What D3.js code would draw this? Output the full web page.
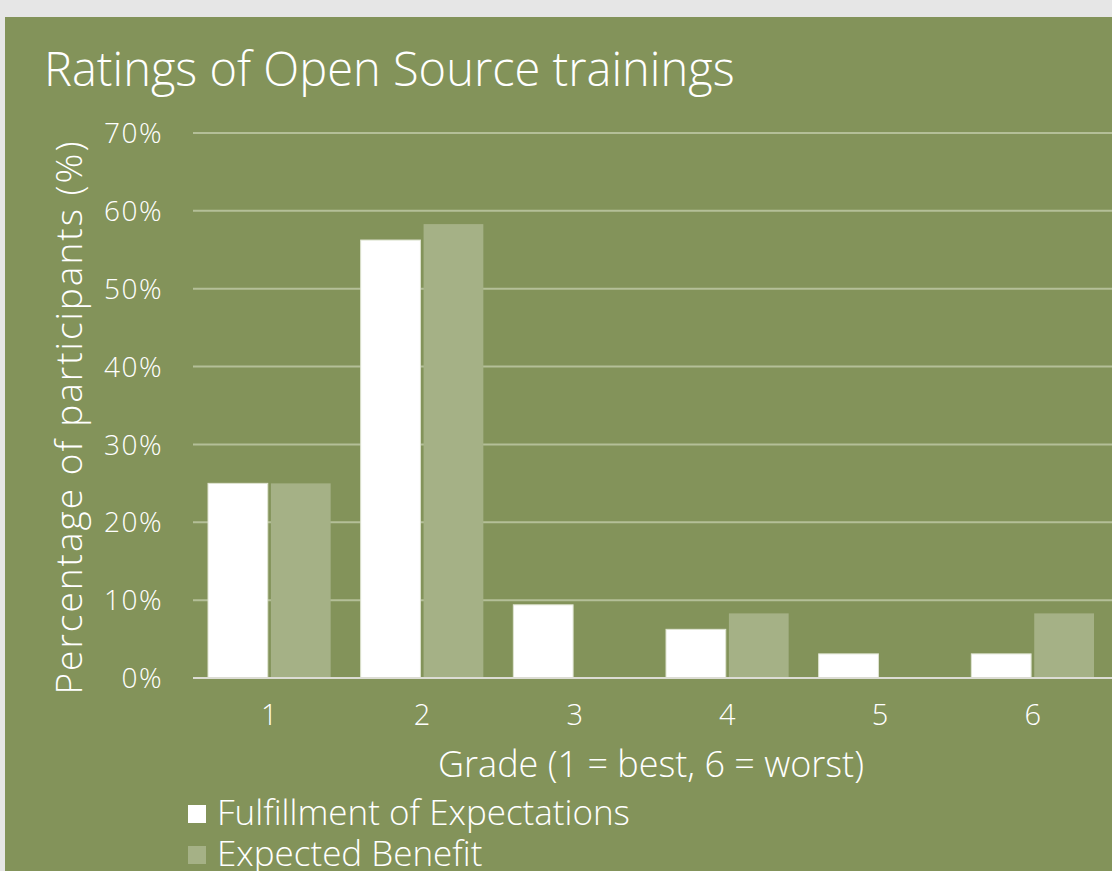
<!DOCTYPE html>
<html>
<head>
<meta charset="utf-8">
<script src="https://cdn.jsdelivr.net/npm/d3@7"></script>
<style>
  html, body { margin: 0; padding: 0; background: #e6e6e6; }
  svg { display: block; font-family: "Open Sans", "Noto Sans", sans-serif; }
</style>
</head>
<body>
<div id="chart"></div>
<script>
const grades = ["1", "2", "3", "4", "5", "6"];
const seriesNames = ["Fulfillment of Expectations", "Expected Benefit"];
const fulfillment = [25, 56.25, 9.4, 6.25, 3.1, 3.1];
const benefit = [25, 58.3, 0, 8.3, 0, 8.3];
const yTicks = [0, 10, 20, 30, 40, 50, 60, 70];

const W = 1112, H = 871;
const bg = "#83935a";
const colors = ["#ffffff", "#a5b186"];

const svg = d3.select("#chart")
    .append("svg")
    .attr("width", W)
    .attr("height", H);

// green panel
svg.append("rect")
    .attr("x", 5).attr("y", 17)
    .attr("width", W - 5).attr("height", H - 17)
    .attr("fill", bg);

// scales
const x = d3.scaleBand().domain(grades).range([193, 1109]);
const x1 = d3.scaleBand().domain(seriesNames).range([15, x.bandwidth() - 15]).paddingInner(0.05);
const y = d3.scaleLinear().domain([0, 70]).range([678, 133]);

// title
svg.append("text")
    .attr("x", 44).attr("y", 86)
    .attr("fill", "#fff")
    .attr("font-size", 47)
    .attr("font-weight", 300)
    .text("Ratings of Open Source trainings");

// grid lines
svg.selectAll("line.grid")
    .data(yTicks.filter(d => d > 0))
    .enter()
    .append("line")
    .attr("class", "grid")
    .attr("x1", 193).attr("x2", W)
    .attr("y1", d => y(d)).attr("y2", d => y(d))
    .attr("stroke", "#b4bf98")
    .attr("stroke-width", 2);

// y tick labels
svg.selectAll("text.ytick")
    .data(yTicks)
    .enter()
    .append("text")
    .attr("class", "ytick")
    .attr("x", 163)
    .attr("y", d => y(d))
    .attr("dy", "0.36em")
    .attr("text-anchor", "end")
    .attr("fill", "#fff")
    .attr("font-size", 28)
    .attr("font-weight", 300)
    .attr("letter-spacing", 1.5)
    .text(d => d + "%");

// bars
const rows = grades.map((g, i) => ({grade: g, values: [fulfillment[i], benefit[i]]}));
const groups = svg.selectAll("g.grade")
    .data(rows)
    .enter()
    .append("g")
    .attr("class", "grade")
    .attr("transform", d => `translate(${x(d.grade)},0)`);

groups.selectAll("rect")
    .data(d => d.values.map((v, j) => ({name: seriesNames[j], value: v, j: j})))
    .enter()
    .append("rect")
    .filter(d => d.value > 0)
    .attr("x", d => x1(d.name))
    .attr("y", d => y(d.value))
    .attr("width", x1.bandwidth())
    .attr("height", d => y(0) - y(d.value))
    .attr("fill", d => colors[d.j])
    .attr("stroke", d => d.j === 0 ? "#dfe4d2" : "none")
    .attr("stroke-width", 1);

// baseline
svg.append("line")
    .attr("x1", 193).attr("x2", W)
    .attr("y1", y(0)).attr("y2", y(0))
    .attr("stroke", "#dcdcd4")
    .attr("stroke-width", 2);

// x tick labels
svg.selectAll("text.xtick")
    .data(grades)
    .enter()
    .append("text")
    .attr("class", "xtick")
    .attr("x", d => x(d) + x.bandwidth() / 2)
    .attr("y", 725)
    .attr("text-anchor", "middle")
    .attr("fill", "#fff")
    .attr("font-size", 29)
    .attr("font-weight", 300)
    .text(d => d);

// axis titles
svg.append("text")
    .attr("x", 651).attr("y", 777)
    .attr("text-anchor", "middle")
    .attr("fill", "#fff")
    .attr("font-size", 36)
    .attr("font-weight", 300)
    .text("Grade (1 = best, 6 = worst)");

svg.append("text")
    .attr("transform", "translate(82,417) rotate(-90)")
    .attr("text-anchor", "middle")
    .attr("fill", "#fff")
    .attr("font-size", 37)
    .attr("font-weight", 300)
    .attr("letter-spacing", 2)
    .text("Percentage of participants (%)");

// legend
const legend = svg.selectAll("g.legend")
    .data(seriesNames)
    .enter()
    .append("g")
    .attr("class", "legend")
    .attr("transform", (d, i) => `translate(188,${805 + i * 41})`);

legend.append("rect")
    .attr("width", 18).attr("height", 18)
    .attr("fill", (d, i) => colors[i]);

legend.append("text")
    .attr("x", 29).attr("y", 20)
    .attr("fill", "#fff")
    .attr("font-size", 35)
    .attr("font-weight", 300)
    .text(d => d);
</script>
</body>
</html>
